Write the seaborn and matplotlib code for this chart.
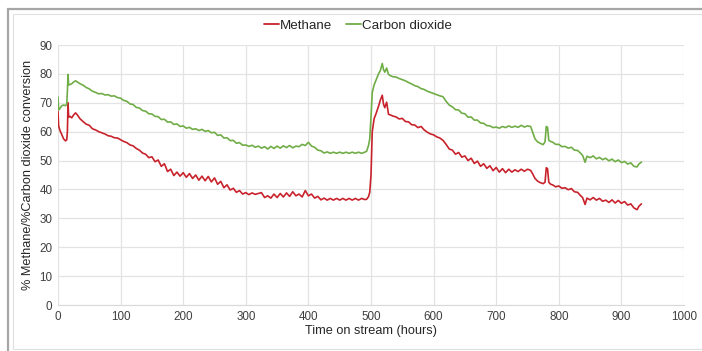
import numpy as np
import pandas as pd
import matplotlib
matplotlib.use("Agg")
import matplotlib.pyplot as plt
import seaborn as sns

# tempo de operação (h) e conversões
horas = [0, 1, 3, 6, 9, 12, 14, 15, 16, 17, 19, 22, 25, 28, 31, 35] \
    + list(range(40, 491, 5)) \
    + [493, 496, 498, 500, 502, 505, 508, 512, 515, 518, 520, 522, 525, 528, 531, 535] \
    + list(range(540, 756, 5)) \
    + [758, 762, 766, 770, 775, 778, 780, 782, 784, 787] \
    + list(range(790, 836, 5)) + [838, 842] + list(range(845, 926, 5)) + [928, 932]

metano = [
    67, 62, 60.5, 59, 57.5, 56.8, 57.2, 60, 70, 65, 65.3, 64.8, 65.8, 66.5, 65.8, 64.5,
    # 40 - 490
    63.5, 62.6, 62.2, 61.0, 60.6, 60.0, 59.6, 59.2, 58.6, 58.4, 57.9, 57.8, 57.2,
    56.6, 56.2, 55.4, 55.1, 54.2, 53.6, 52.6, 52.2, 51.0, 51.3,
    49.6, 50.2, 48.0, 48.9, 46.2, 47.0, 44.8, 46.0, 44.6, 45.8,
    44.2, 45.5, 43.8, 45.0, 43.2, 44.6, 43.0, 44.5, 42.6, 44.0,
    41.8, 42.8, 40.6, 41.6, 39.8, 40.4, 39.0, 39.6, 38.4, 38.9,
    38.2, 38.8, 38.3, 38.6, 38.9, 37.2, 37.8, 37.0, 38.4, 37.2,
    38.6, 37.4, 38.8, 37.6, 39.2, 37.8, 38.4, 37.4, 39.6, 37.8,
    38.4, 37.0, 37.6, 36.4, 37.0, 36.3, 36.9, 36.3, 36.9, 36.3,
    36.9, 36.3, 36.9, 36.3, 36.9, 36.3, 36.9, 36.5,
    # reativação
    36.6, 37.5, 39.0, 45.0, 60.0, 64.5, 66.2, 68.8, 71.0, 72.6, 69.5, 68.3, 70.2, 66.0, 65.8, 65.4,
    # 540 - 755
    65.1, 64.4, 64.6, 63.5, 63.4, 62.4, 62.3, 61.4, 61.8, 60.6,
    59.8, 59.2, 58.9, 58.2, 57.8, 57.0, 55.6, 54.0, 53.6, 52.2,
    52.8, 51.2, 51.6, 50.0, 50.8, 49.0, 49.8, 48.0, 48.9, 47.3,
    48.2, 46.5, 47.6, 46.0, 47.2, 45.8, 47.0, 46.0, 46.8, 46.2,
    47.0, 46.3, 47.0, 46.6,
    45.5, 43.8, 42.9, 42.4, 42.0, 42.5, 47.5, 47.2, 42.5, 41.8,
    41.6, 40.9, 41.2, 40.4, 40.6, 39.9, 40.3, 39.2, 39.0, 37.8,
    37.2, 34.8,
    37.0, 36.4, 37.2, 36.3, 36.9, 35.9, 36.3, 35.5, 36.4, 35.3,
    36.2, 35.2, 35.8, 34.6, 35.0, 33.6, 33.0,
    34.2, 35.0,
]

dioxido = [
    72, 67.5, 68, 69, 69.2, 69, 69.5, 74, 79.8, 76.2, 76.3, 76.6, 77.2, 77.6, 77.2, 76.6,
    # 40 - 490
    76.1, 75.3, 74.8, 74.0, 73.6, 73.1, 73.2, 72.7, 72.8, 72.3, 72.4, 71.8, 71.6,
    70.8, 70.5, 69.6, 69.4, 68.4, 68.2, 67.3, 67.1, 66.2, 66.1,
    65.3, 65.2, 64.2, 64.3, 63.3, 63.4, 62.5, 62.7, 61.8, 62.0,
    61.2, 61.5, 60.8, 61.0, 60.4, 60.8, 60.1, 60.4, 59.6, 59.8,
    58.7, 58.9, 57.8, 57.9, 56.9, 57.0, 56.0, 56.2, 55.3, 55.4,
    54.9, 55.3, 54.6, 55.0, 54.3, 54.8, 54.0, 54.9, 54.2, 55.0,
    54.3, 55.1, 54.5, 55.2, 54.4, 55.0, 54.8, 55.6, 55.2, 56.3,
    55.0, 54.6, 53.6, 53.4, 52.6, 53.0, 52.5, 52.9, 52.5, 52.9,
    52.5, 52.9, 52.5, 52.9, 52.5, 52.9, 52.5, 52.9,
    # reativação
    53.2, 55.2, 57.5, 65.0, 73.5, 76.2, 77.8, 80.0, 81.2, 83.6, 81.5, 80.6, 82.0, 79.8, 79.4, 79.0,
    # 540 - 755
    78.9, 78.4, 78.0, 77.6, 77.0, 76.5, 75.9, 75.6, 74.9, 74.6,
    74.0, 73.6, 73.2, 72.8, 72.4, 72.1, 70.5, 69.2, 68.6, 67.6,
    67.5, 66.4, 66.2, 65.0, 65.1, 64.0, 64.0, 63.0, 62.9, 62.1,
    62.0, 61.4, 61.6, 61.2, 61.8, 61.4, 62.0, 61.5, 61.9, 61.5,
    62.2, 61.6, 62.0, 61.8,
    60.0, 57.5, 56.5, 56.0, 55.5, 56.5, 61.8, 61.5, 57.0, 56.6,
    56.4, 55.6, 55.6, 54.8, 54.9, 54.3, 54.6, 53.6, 53.5, 52.5,
    51.8, 49.4,
    51.5, 51.0, 51.6, 50.6, 51.1, 50.3, 50.8, 49.9, 50.5, 49.6,
    50.2, 49.3, 49.7, 48.8, 49.2, 48.0, 47.8,
    48.8, 49.5,
]

series = ["Methane", "Carbon dioxide"]
cores = {"Methane": "#c8232c", "Carbon dioxide": "#70ad47"}

df = pd.concat([
    pd.DataFrame({"horas": horas, "conv": metano, "serie": series[0]}),
    pd.DataFrame({"horas": horas, "conv": dioxido, "serie": series[1]}),
], ignore_index=True)

sns.set_style("whitegrid")
plt.rcParams["font.family"] = ["Liberation Sans", "DejaVu Sans"]

fig = plt.figure(figsize=(7.02, 3.51), dpi=100)
fig.patch.set_edgecolor("none")
ax = fig.add_axes([58 / 702, 46 / 351, 626 / 702, 260 / 351])

sns.lineplot(data=df, x="horas", y="conv", hue="serie", palette=cores,
             estimator=None, linewidth=1.2, ax=ax, legend=False)

ax.set_xlim(0, 1000)
ax.set_ylim(0, 90)
ax.set_xticks(np.arange(0, 1001, 100))
ax.set_yticks(np.arange(0, 91, 10))
ax.grid(True, color="#e3e3e3", linewidth=0.9)
for lado in ["left", "right", "top"]:
    ax.spines[lado].set_visible(False)
ax.spines["bottom"].set_color("#d9d9d9")
ax.tick_params(axis="both", labelsize=8.4, labelcolor="#404040", length=0, pad=4)
ax.set_xlabel("Time on stream (hours)", fontsize=9.2, color="#262626", labelpad=2)
ax.set_ylabel("% Methane/%Carbon dioxide conversion", fontsize=9.2, color="#262626", labelpad=4)

handles = [plt.Line2D([], [], color=cores[s], linewidth=1.3) for s in series]
fig.legend(handles, series, loc="center", bbox_to_anchor=(0.51, 0.926), ncol=2,
           frameon=False, fontsize=9.6, handlelength=1.1, handletextpad=0.1,
           columnspacing=1.0)

# moldura do gráfico (linhas da captura de tela)
def linha(xs, ys, cor, lw):
    fig.add_artist(plt.Line2D([x / 702 for x in xs], [1 - y / 351 for y in ys],
                              transform=fig.transFigure, color=cor, linewidth=lw,
                              solid_capstyle="butt"))

linha([13, 13], [14, 349], "#e0e0e0", 0.8)
linha([13, 702], [14, 14], "#e0e0e0", 0.8)
linha([13, 702], [349, 349], "#e0e0e0", 0.8)
linha([8, 8], [8, 351], "#a6a6a6", 1.6)
linha([7, 702], [9, 9], "#a6a6a6", 1.6)

fig.savefig("out.png", dpi=100, edgecolor="none")
